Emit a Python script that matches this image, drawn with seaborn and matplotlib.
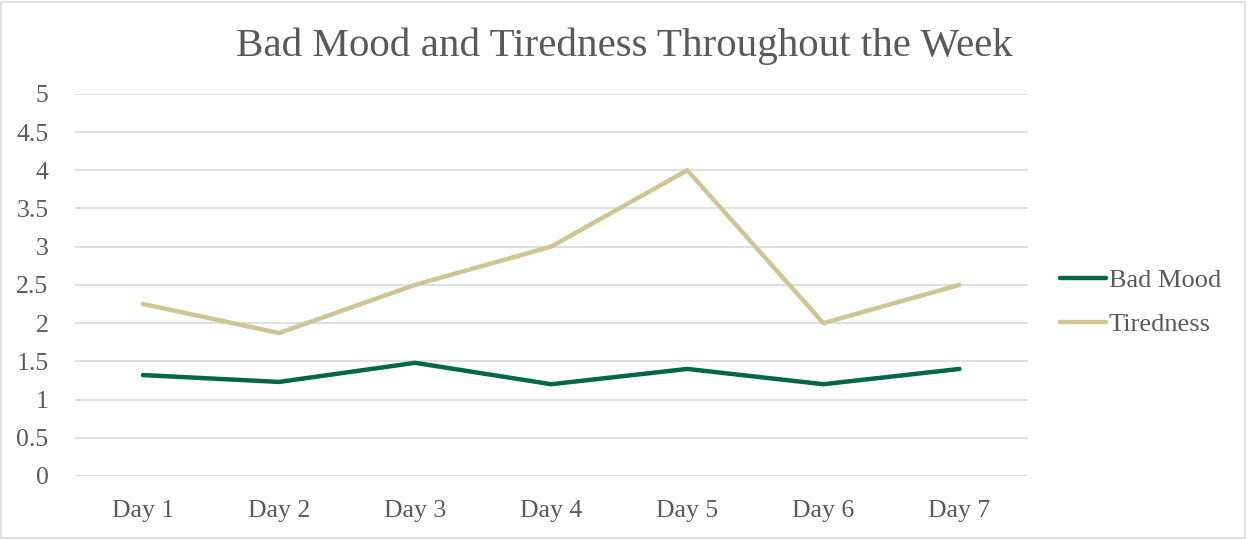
import matplotlib
matplotlib.use("Agg")
import matplotlib.pyplot as plt
import pandas as pd
import seaborn as sns
from matplotlib.patches import Rectangle

days = ["Day 1", "Day 2", "Day 3", "Day 4", "Day 5", "Day 6", "Day 7"]
bad_mood = [1.32, 1.23, 1.48, 1.20, 1.40, 1.20, 1.40]
tiredness = [2.25, 1.87, 2.50, 3.00, 4.00, 2.00, 2.50]
y_ticks = [0, 0.5, 1, 1.5, 2, 2.5, 3, 3.5, 4, 4.5, 5]
y_tick_labels = ["0", "0.5", "1", "1.5", "2", "2.5", "3", "3.5", "4", "4.5", "5"]

df = pd.DataFrame({
    "Day": days * 2,
    "Score": bad_mood + tiredness,
    "Series": ["Bad Mood"] * len(days) + ["Tiredness"] * len(days),
})

sns.set_theme(style="white")
plt.rcParams["font.family"] = ["Liberation Serif", "DejaVu Serif"]

text_color = "#595959"
palette = {"Bad Mood": "#006747", "Tiredness": "#CFC493"}

fig = plt.figure(figsize=(12.47, 5.39), dpi=100)
ax = fig.add_axes([0.060, 0.117, 0.764, 0.709])

sns.lineplot(data=df, x="Day", y="Score", hue="Series", palette=palette,
             linewidth=3.2, sort=False, ax=ax, legend=False)

ax.set_xlim(-0.5, len(days) - 0.5)
ax.set_ylim(0, 5)
ax.set_yticks(y_ticks)
ax.set_yticklabels(y_tick_labels)
ax.set_xlabel("")
ax.set_ylabel("")
ax.yaxis.grid(True, color="#d9d9d9", linewidth=1.2)
ax.set_axisbelow(True)
for s in ax.spines.values():
    s.set_visible(False)
ax.tick_params(axis="both", length=0, labelsize=18.5, colors=text_color)
ax.tick_params(axis="y", pad=19)
ax.tick_params(axis="x", pad=17)

fig.text(0.501, 0.914, "Bad Mood and Tiredness Throughout the Week",
         ha="center", va="center", fontsize=29.5, color=text_color)

handles = [plt.Line2D([], [], color=palette[k], linewidth=3.2) for k in ["Bad Mood", "Tiredness"]]
fig.legend(handles, ["Bad Mood", "Tiredness"], loc="center left",
           bbox_to_anchor=(0.831, 0.439), frameon=False, fontsize=19,
           labelcolor=text_color, handlelength=1.75, handletextpad=0.1,
           labelspacing=0.8)

fig.patches.append(Rectangle((0.001, 0.002), 0.997, 0.995, transform=fig.transFigure,
                             fill=False, edgecolor="#d9d9d9", linewidth=1.2))

fig.savefig("out.png", dpi=100, facecolor="white")
